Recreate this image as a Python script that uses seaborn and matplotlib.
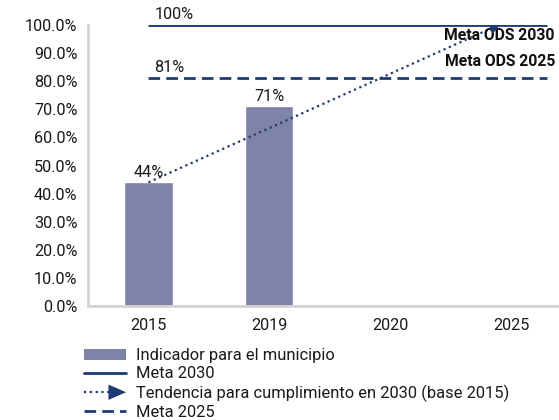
import numpy as np
import pandas as pd
import matplotlib
matplotlib.use("Agg")
import matplotlib.pyplot as plt
import seaborn as sns
from matplotlib.lines import Line2D
from matplotlib.patches import Patch, Polygon
from matplotlib.legend_handler import HandlerBase
from matplotlib.ticker import FuncFormatter

# Data
years = ["2015", "2019", "2020", "2025"]
indicador = [44, 71, np.nan, np.nan]
bar_labels = ["44%", "71%"]
meta_2030 = 100
meta_2025 = 81
trend_start = 44
trend_end = 100
y_ticks = [0, 10, 20, 30, 40, 50, 60, 70, 80, 90, 100]
legend_labels = [
    "Indicador para el municipio",
    "Meta 2030",
    "Tendencia para cumplimiento en 2030 (base 2015)",
    "Meta 2025",
]

BAR = "#7f83a7"
NAVY = "#1f3b73"
SPINE = "#d3d3d3"
TXT = "#1a1a1a"
FS = 11.7

sns.set_theme(style="white")
plt.rcParams["font.family"] = ["Roboto", "DejaVu Sans"]

fig = plt.figure(figsize=(5.59, 4.20), dpi=100)
ax = fig.add_axes([88 / 559, 1 - 306 / 420, 483.5 / 559, 281 / 420])

df = pd.DataFrame({"year": years, "valor": indicador})
sns.barplot(data=df, x="year", y="valor", order=years, color=BAR,
            width=0.4, saturation=1, ax=ax)

ax.set_xlim(-0.5, 3.5)
ax.set_ylim(0, 100)
ax.set_yticks(y_ticks)
ax.yaxis.set_major_formatter(FuncFormatter(lambda v, p: f"{v:.1f}%"))
ax.set_xlabel("")
ax.set_ylabel("")
ax.tick_params(axis="both", length=0, labelsize=FS, colors=TXT)
ax.tick_params(axis="y", pad=7.5)
ax.tick_params(axis="x", pad=8.5)

for s in ["top", "right"]:
    ax.spines[s].set_visible(False)
for s in ["left", "bottom"]:
    ax.spines[s].set_color(SPINE)
    ax.spines[s].set_linewidth(2)

# Bar value labels
for i, (v, lab) in enumerate(zip(indicador[:2], bar_labels)):
    ax.text(i, v + 0.8, lab, ha="center", va="bottom", fontsize=FS, color=TXT)

# Target lines
ax.hlines(meta_2030, 0, 3.3, color=NAVY, lw=2.0)
ax.hlines(meta_2025, 0, 3.3, color=NAVY, lw=2.0, linestyles=(0, (4.2, 2.2)))
ax.text(0.05, meta_2030 + 1.2, f"{meta_2030}%", ha="left", va="bottom",
        fontsize=FS, color=TXT, clip_on=False)
ax.text(0.05, meta_2025 + 1.2, f"{meta_2025}%", ha="left", va="bottom",
        fontsize=FS, color=TXT)
ax.text(555 / 559, 1 - 35 / 420, "Meta ODS 2030", transform=fig.transFigure,
        ha="right", va="center", fontsize=11.3, fontweight="bold", color="#111111")
ax.text(555 / 559, 1 - 62 / 420, "Meta ODS 2025", transform=fig.transFigure,
        ha="right", va="center", fontsize=11.3, fontweight="bold", color="#111111")

# Trend towards the 2030 target
x_end = 2.9
ax.plot([0, x_end - 0.08], [trend_start, trend_end - 1.5], color=NAVY,
        lw=1.6, linestyle=(0, (1, 1.6)))
ax.annotate("", xy=(x_end, trend_end - 0.5), xytext=(x_end - 0.12, trend_end - 2.8),
            arrowprops=dict(arrowstyle="-|>", color=NAVY, lw=0,
                            mutation_scale=16, shrinkA=0, shrinkB=0))


class DottedArrowHandler(HandlerBase):
    def create_artists(self, legend, orig_handle, xdescent, ydescent,
                       width, height, fontsize, trans):
        y = height / 2 - ydescent
        x0 = -xdescent
        line = Line2D([x0, x0 + width * 0.62], [y, y], color=NAVY, lw=1.6,
                      linestyle=(0, (1, 1.6)))
        tri = Polygon([[x0 + width * 0.58, y + 5.5], [x0 + width, y],
                       [x0 + width * 0.58, y - 5.5]], closed=True,
                      color=NAVY, lw=0)
        line.set_transform(trans)
        tri.set_transform(trans)
        return [line, tri]


h_bar = Patch(facecolor=BAR, edgecolor="none")
h_2030 = Line2D([], [], color=NAVY, lw=2.0)
h_trend = object()
h_2025 = Line2D([], [], color=NAVY, lw=2.0, linestyle=(0, (4.2, 2.2)))

leg = fig.legend([h_bar, h_2030, h_trend, h_2025], legend_labels,
                 loc="upper left", bbox_to_anchor=(84 / 559, 1 - 348 / 420),
                 frameon=False, fontsize=11.9, handlelength=2.55,
                 handleheight=0.66, handletextpad=0.58, labelspacing=0.2,
                 borderpad=0, borderaxespad=0,
                 handler_map={h_trend: DottedArrowHandler()})
for t in leg.get_texts():
    t.set_color(TXT)

fig.savefig("out.png", dpi=100)
